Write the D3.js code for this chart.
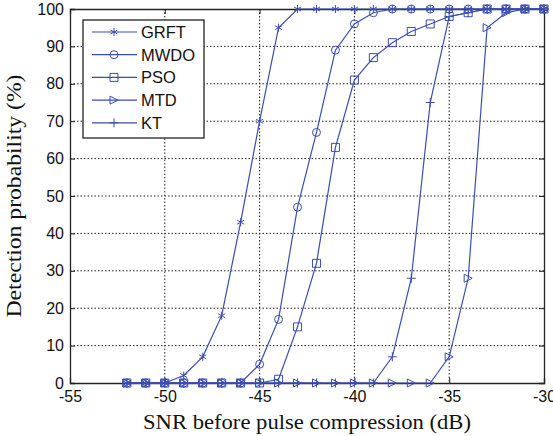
<!DOCTYPE html>
<html>
<head>
<meta charset="utf-8">
<script src="https://cdn.jsdelivr.net/npm/d3@7"></script>
<style>
  body { margin: 0; background: #fff; }
  svg { display: block; }
</style>
</head>
<body>
<div id="chart"></div>
<script>
// SNR values (dB) where each curve was sampled
const snr = [-52, -51, -50, -49, -48, -47, -46, -45, -44, -43, -42, -41,
             -40, -39, -38, -37, -36, -35, -34, -33, -32, -31, -30];

// detection probability (%) for each method
const grft = [0, 0, 0, 2, 7, 18, 43, 70, 95, 100, 100, 100,
              100, 100, 100, 100, 100, 100, 100, 100, 100, 100, 100];
const mwdo = [0, 0, 0, 0, 0, 0, 0, 5, 17, 47, 67, 89,
              96, 99, 100, 100, 100, 100, 100, 100, 100, 100, 100];
const pso  = [0, 0, 0, 0, 0, 0, 0, 0, 1, 15, 32, 63,
              81, 87, 91, 94, 96, 98, 99, 100, 100, 100, 100];
const mtd  = [0, 0, 0, 0, 0, 0, 0, 0, 0, 0, 0, 0,
              0, 0, 0, 0, 0, 7, 28, 95, 99, 100, 100];
const kt   = [0, 0, 0, 0, 0, 0, 0, 0, 0, 0, 0, 0,
              0, 0, 7, 28, 75, 98, 99, 100, 100, 100, 100];

const seriesNames = ["GRFT", "MWDO", "PSO", "MTD", "KT"];
const seriesValues = [grft, mwdo, pso, mtd, kt];
const seriesMarkers = ["asterisk", "circle", "square", "triangle", "plus"];

const xTicks = [-55, -50, -45, -40, -35, -30];
const yTicks = [0, 10, 20, 30, 40, 50, 60, 70, 80, 90, 100];

const blue = "#3a4db0";

// set the dimensions and margins of the graph
const margin = { top: 9, right: 9, bottom: 53, left: 70 },
    width = 553 - margin.left - margin.right,
    height = 436 - margin.top - margin.bottom;

const svg = d3.select("#chart")
    .append("svg")
    .attr("width", width + margin.left + margin.right)
    .attr("height", height + margin.top + margin.bottom)
    .append("g")
    .attr("transform", `translate(${margin.left}, ${margin.top})`);

const x = d3.scaleLinear().domain([-55, -30]).range([0, width]);
const y = d3.scaleLinear().domain([0, 100]).range([height, 0]);

// dotted grid
svg.append("g")
    .selectAll("line")
    .data(xTicks.slice(1, -1))
    .join("line")
    .attr("x1", d => x(d)).attr("x2", d => x(d))
    .attr("y1", 0).attr("y2", height)
    .attr("stroke", "#222").attr("stroke-width", 1)
    .attr("stroke-dasharray", "1.5,2");
svg.append("g")
    .selectAll("line")
    .data(yTicks.slice(1, -1))
    .join("line")
    .attr("x1", 0).attr("x2", width)
    .attr("y1", d => y(d)).attr("y2", d => y(d))
    .attr("stroke", "#222").attr("stroke-width", 1)
    .attr("stroke-dasharray", "1.5,2");

// axes with inward ticks, plain hyphen for negatives like the original
const tickFont = "'Liberation Sans', Arial, sans-serif";
const fmt = d => String(d);
svg.append("g")
    .attr("transform", `translate(0, ${height})`)
    .call(d3.axisBottom(x).tickValues(xTicks).tickFormat(fmt).tickSize(-5).tickPadding(8));
svg.append("g")
    .call(d3.axisLeft(y).tickValues(yTicks).tickFormat(fmt).tickSize(-5).tickPadding(6));
svg.append("g")
    .attr("transform", `translate(${width}, 0)`)
    .call(d3.axisRight(y).tickValues(yTicks).tickSize(-5).tickFormat(""));
svg.append("g")
    .call(d3.axisTop(x).tickValues(xTicks).tickSize(-5).tickFormat(""));
svg.selectAll(".domain").attr("stroke", "#222").attr("stroke-width", 1.3);
svg.selectAll(".tick line").attr("stroke", "#222");
svg.selectAll(".tick text")
    .style("font-family", tickFont).style("font-size", "16px").attr("fill", "#111");

// marker shapes
function markerPath(type, s) {
    const h = s / 2;
    switch (type) {
        case "circle":
            return `M${h},0A${h},${h},0,1,1,${-h},0A${h},${h},0,1,1,${h},0Z`;
        case "square":
            return `M${-h},${-h}H${h}V${h}H${-h}Z`;
        case "triangle":
            return `M${h},0L${-h},${-h}L${-h},${h}Z`;
        case "plus":
            return `M${-h},0H${h}M0,${-h}V${h}`;
        case "asterisk": {
            const c = h * 0.87, d = h * 0.5;
            return `M0,${-h}V${h}M${-c},${-d}L${c},${d}M${-c},${d}L${c},${-d}`;
        }
    }
}
const markerSize = { asterisk: 8, circle: 8, square: 8, triangle: 8, plus: 9 };

const line = d3.line()
    .x((d, i) => x(snr[i]))
    .y(d => y(d));

seriesValues.forEach((vals, k) => {
    svg.append("path")
        .datum(vals)
        .attr("fill", "none")
        .attr("stroke", blue)
        .attr("stroke-width", 1.2)
        .attr("d", line);
    svg.append("g")
        .selectAll("path")
        .data(vals)
        .join("path")
        .attr("transform", (d, i) => `translate(${x(snr[i])}, ${y(d)})`)
        .attr("d", markerPath(seriesMarkers[k], markerSize[seriesMarkers[k]]))
        .attr("fill", "none")
        .attr("stroke", blue)
        .attr("stroke-width", 1);
});

// legend
const legend = svg.append("g").attr("transform", "translate(13, 11)");
legend.append("rect")
    .attr("width", 121).attr("height", 118)
    .attr("fill", "#fff").attr("stroke", "#222").attr("stroke-width", 1.3);
seriesNames.forEach((name, k) => {
    const ly = 12 + k * 22.7;
    const row = legend.append("g").attr("transform", `translate(0, ${ly})`);
    row.append("line").attr("x1", 9).attr("x2", 54)
        .attr("stroke", blue).attr("stroke-width", 1.2);
    row.append("path")
        .attr("transform", "translate(31, 0)")
        .attr("d", markerPath(seriesMarkers[k], markerSize[seriesMarkers[k]]))
        .attr("fill", "none").attr("stroke", blue);
    row.append("text")
        .attr("x", 58).attr("y", 0).attr("dy", "0.36em")
        .style("font-family", tickFont).style("font-size", "16.5px")
        .attr("fill", "#111")
        .text(name);
});

// axis labels
const labelFont = "'Liberation Serif', 'Times New Roman', serif";
svg.append("text")
    .attr("x", width / 2).attr("y", height + 46)
    .attr("text-anchor", "middle")
    .attr("textLength", 328).attr("lengthAdjust", "spacingAndGlyphs")
    .style("font-family", labelFont).style("font-size", "20px")
    .attr("fill", "#111")
    .text("SNR before pulse compression (dB)");
svg.append("text")
    .attr("transform", `translate(${-49}, ${height / 2}) rotate(-90)`)
    .attr("text-anchor", "middle")
    .attr("textLength", 243).attr("lengthAdjust", "spacingAndGlyphs")
    .style("font-family", labelFont).style("font-size", "20px")
    .attr("fill", "#111")
    .text("Detection probability (%)");
</script>
</body>
</html>
